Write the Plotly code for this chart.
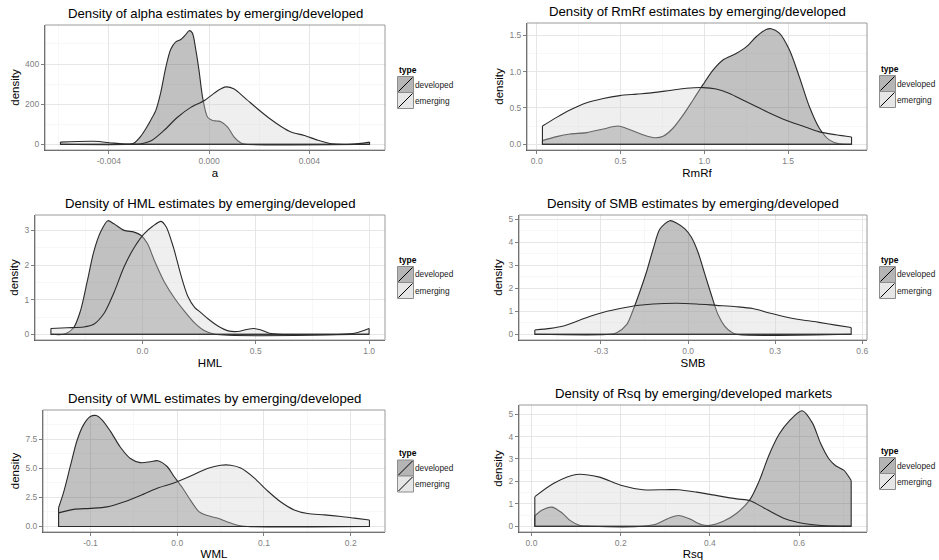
import plotly.graph_objects as go

W, H = 939, 560
FONT = "Liberation Sans, Arial, Helvetica, sans-serif"

# ---------------- data ----------------
groups = ["developed", "emerging"]

# alpha (a)
alpha_dev_x = [-0.00593, -0.00321, -0.00301, -0.00273, -0.00249, -0.00233, -0.00213, -0.00193, -0.00173,
               -0.00153, -0.00133, -0.00113, -0.00093, -0.00080, -0.00067, -0.00053, -0.00040, -0.00026,
               -0.00006, 0.00014, 0.00031, 0.00047, 0.00074, 0.00100, 0.00127, 0.00147, 0.00640]
alpha_dev_y = [0, 0, 5, 40, 85, 120, 168, 258, 382, 473, 510, 522, 547, 566, 555, 470, 366, 234,
               135, 119, 116, 113, 86, 36, 6, 0, 0]
alpha_emg_x = [-0.00593, -0.00460, -0.00380, -0.00313, -0.00273, -0.00233, -0.00180, -0.00126, -0.00073,
               -0.00020, 0.00034, 0.00067, 0.00100, 0.00140, 0.00194, 0.00240, 0.00287, 0.00327,
               0.00380, 0.00434, 0.00487, 0.00567, 0.00640]
alpha_emg_y = [11, 15, 6, 0, 2, 16, 69, 135, 184, 217, 267, 286, 275, 234, 176, 130, 89, 61,
               44, 20, 3, 0, 11]

# RmRf
rmrf_dev_x = [0.034, 0.119, 0.198, 0.298, 0.397, 0.486, 0.556, 0.635, 0.704, 0.754, 0.813, 0.873,
              0.933, 0.992, 1.052, 1.111, 1.190, 1.250, 1.310, 1.369, 1.399, 1.448, 1.508, 1.567,
              1.627, 1.687, 1.746, 1.806, 1.879]
rmrf_dev_y = [0.05, 0.105, 0.14, 0.16, 0.21, 0.25, 0.20, 0.13, 0.09, 0.11, 0.22, 0.40,
              0.61, 0.82, 1.02, 1.16, 1.25, 1.34, 1.48, 1.58, 1.59, 1.53, 1.30, 0.93,
              0.52, 0.22, 0.06, 0.005, 0.0]
rmrf_emg_x = [0.034, 0.119, 0.198, 0.298, 0.397, 0.496, 0.595, 0.694, 0.794, 0.893, 0.992, 1.071,
              1.151, 1.230, 1.310, 1.389, 1.488, 1.587, 1.687, 1.786, 1.879]
rmrf_emg_y = [0.25, 0.37, 0.47, 0.57, 0.63, 0.67, 0.69, 0.71, 0.74, 0.77, 0.78, 0.76,
              0.70, 0.61, 0.52, 0.43, 0.33, 0.25, 0.17, 0.13, 0.10]

# HML
hml_dev_x = [-0.404, -0.348, -0.304, -0.274, -0.244, -0.215, -0.185, -0.153, -0.126, -0.081, -0.037,
             -0.007, 0.022, 0.052, 0.096, 0.141, 0.185, 0.230, 0.274, 0.319, 1.0]
hml_dev_y = [0, 0, 0.19, 0.67, 1.52, 2.38, 2.95, 3.28, 3.19, 3.0, 2.95,
             2.86, 2.62, 2.14, 1.52, 1.05, 0.67, 0.33, 0.10, 0, 0]
hml_emg_x = [-0.404, -0.333, -0.259, -0.215, -0.170, -0.126, -0.081, -0.037, 0.007, 0.045, 0.082,
             0.105, 0.137, 0.170, 0.200, 0.230, 0.259, 0.289, 0.333, 0.378, 0.42, 0.46, 0.49,
             0.52, 0.56, 0.60, 0.88, 0.94, 1.0]
hml_emg_y = [0.17, 0.19, 0.21, 0.29, 0.60, 1.20, 1.95, 2.50, 2.90, 3.12, 3.26,
             3.10, 2.50, 1.70, 1.10, 0.78, 0.62, 0.45, 0.24, 0.10, 0.08, 0.14, 0.17,
             0.13, 0.03, 0, 0, 0.04, 0.17]

# SMB
smb_dev_x = [-0.528, -0.269, -0.246, -0.211, -0.189, -0.166, -0.143, -0.120, -0.097, -0.063, -0.040,
             -0.011, 0.011, 0.034, 0.057, 0.080, 0.103, 0.126, 0.149, 0.166, 0.562]
smb_dev_y = [0, 0, 0.07, 0.43, 1.07, 1.86, 2.72, 3.72, 4.58, 4.94, 4.84,
             4.58, 4.23, 3.58, 2.65, 1.72, 0.86, 0.36, 0.10, 0, 0]
smb_emg_x = [-0.528, -0.474, -0.429, -0.383, -0.337, -0.291, -0.234, -0.177, -0.120, -0.040, 0.029,
             0.097, 0.166, 0.223, 0.280, 0.337, 0.394, 0.451, 0.509, 0.562]
smb_emg_y = [0.19, 0.26, 0.36, 0.57, 0.79, 0.96, 1.12, 1.25, 1.32, 1.35, 1.32,
             1.26, 1.20, 1.12, 0.93, 0.75, 0.62, 0.52, 0.40, 0.30]

# WML
wml_dev_x = [-0.1368, -0.1310, -0.1233, -0.1156, -0.1079, -0.1002, -0.0933, -0.0867, -0.0771, -0.0655,
             -0.0540, -0.0424, -0.0308, -0.0224, -0.0116, -0.0039, 0.0058, 0.0154, 0.0250, 0.0347,
             0.0462, 0.0578, 0.0694, 0.0809, 0.2216]
wml_dev_y = [1.61, 2.94, 5.17, 7.39, 8.78, 9.47, 9.56, 9.19, 8.22, 6.83,
             5.86, 5.5, 5.58, 5.67, 5.17, 4.33, 3.36, 2.25, 1.28, 0.94,
             0.72, 0.39, 0.11, 0, 0]
wml_emg_x = [-0.1368, -0.1195, -0.1002, -0.0809, -0.0617, -0.0424, -0.0231, -0.0039, 0.0154, 0.0347,
             0.0501, 0.0617, 0.0732, 0.0886, 0.1040, 0.1195, 0.1349, 0.1503, 0.1696, 0.1888,
             0.2042, 0.2216]
wml_emg_y = [1.17, 1.47, 1.56, 1.69, 2.11, 2.67, 3.30, 3.75, 4.35, 5.0,
             5.28, 5.28, 5.03, 4.19, 3.08, 2.11, 1.42, 1.11, 1.0, 0.86,
             0.72, 0.56]

# Rsq
rsq_dev_x = [0.0074, 0.024, 0.046, 0.068, 0.087, 0.109, 0.132, 0.25, 0.28, 0.31, 0.33, 0.355, 0.38,
             0.40, 0.43, 0.46, 0.49, 0.51, 0.533, 0.555, 0.578, 0.607, 0.63, 0.648, 0.667, 0.682,
             0.70, 0.7167]
rsq_dev_y = [0.46, 0.72, 0.85, 0.6, 0.25, 0.03, 0, 0, 0.1, 0.38, 0.48, 0.32, 0.08,
             0.04, 0.22, 0.58, 1.2, 2.0, 3.2, 4.1, 4.7, 5.15, 4.6, 3.7, 3.0, 2.7,
             2.5, 2.04]
rsq_emg_x = [0.0074, 0.05, 0.10, 0.15, 0.20, 0.25, 0.30, 0.33, 0.37, 0.40, 0.46, 0.49, 0.53, 0.57,
             0.61, 0.65, 0.69, 0.7167]
rsq_emg_y = [1.32, 1.92, 2.31, 2.20, 1.83, 1.63, 1.63, 1.63, 1.52, 1.42, 1.22, 1.14, 0.72, 0.32,
             0.12, 0.03, 0.0, 0.0]

# titles, axis labels, ticks
titles = ["Density of alpha estimates by emerging/developed",
          "Density of RmRf estimates by emerging/developed",
          "Density of HML estimates by emerging/developed",
          "Density of SMB estimates by emerging/developed",
          "Density of WML estimates by emerging/developed",
          "Density of Rsq by emerging/developed markets"]
x_labels = ["a", "RmRf", "HML", "SMB", "WML", "Rsq"]
y_label = "density"

alpha_xticks = [-0.004, 0.0, 0.004];      alpha_xtext = ["-0.004", "0.000", "0.004"]
alpha_yticks = [0, 200, 400];             alpha_ytext = ["0", "200", "400"]
rmrf_xticks = [0.0, 0.5, 1.0, 1.5];       rmrf_xtext = ["0.0", "0.5", "1.0", "1.5"]
rmrf_yticks = [0.0, 0.5, 1.0, 1.5];       rmrf_ytext = ["0.0", "0.5", "1.0", "1.5"]
hml_xticks = [0.0, 0.5, 1.0];             hml_xtext = ["0.0", "0.5", "1.0"]
hml_yticks = [0, 1, 2, 3];                hml_ytext = ["0", "1", "2", "3"]
smb_xticks = [-0.3, 0.0, 0.3, 0.6];       smb_xtext = ["-0.3", "0.0", "0.3", "0.6"]
smb_yticks = [0, 1, 2, 3, 4, 5];          smb_ytext = ["0", "1", "2", "3", "4", "5"]
wml_xticks = [-0.1, 0.0, 0.1, 0.2];       wml_xtext = ["-0.1", "0.0", "0.1", "0.2"]
wml_yticks = [0.0, 2.5, 5.0, 7.5];        wml_ytext = ["0.0", "2.5", "5.0", "7.5"]
rsq_xticks = [0.0, 0.2, 0.4, 0.6];        rsq_xtext = ["0.0", "0.2", "0.4", "0.6"]
rsq_yticks = [0, 1, 2, 3, 4, 5];          rsq_ytext = ["0", "1", "2", "3", "4", "5"]

# ---------------- styling / layout ----------------
DEV_FILL = "rgba(77,77,77,0.35)"
EMG_FILL = "rgba(209,209,209,0.35)"
LINE = "#2b2b2b"
DEV_KEY = "#b5b5b5"
EMG_KEY = "#e6e6e6"

# plot boxes in pixels: left, right, top, bottom
boxes = [(45, 385, 25, 150), (527, 867, 23, 150),
         (35, 385, 215, 340), (519, 867, 215, 340),
         (43, 385, 410, 532), (519, 867, 405, 532)]

panels = [
    dict(dev=(alpha_dev_x, alpha_dev_y), emg=(alpha_emg_x, alpha_emg_y),
         xt=(alpha_xticks, alpha_xtext), yt=(alpha_yticks, alpha_ytext)),
    dict(dev=(rmrf_dev_x, rmrf_dev_y), emg=(rmrf_emg_x, rmrf_emg_y),
         xt=(rmrf_xticks, rmrf_xtext), yt=(rmrf_yticks, rmrf_ytext)),
    dict(dev=(hml_dev_x, hml_dev_y), emg=(hml_emg_x, hml_emg_y),
         xt=(hml_xticks, hml_xtext), yt=(hml_yticks, hml_ytext)),
    dict(dev=(smb_dev_x, smb_dev_y), emg=(smb_emg_x, smb_emg_y),
         xt=(smb_xticks, smb_xtext), yt=(smb_yticks, smb_ytext)),
    dict(dev=(wml_dev_x, wml_dev_y), emg=(wml_emg_x, wml_emg_y),
         xt=(wml_xticks, wml_xtext), yt=(wml_yticks, wml_ytext)),
    dict(dev=(rsq_dev_x, rsq_dev_y), emg=(rsq_emg_x, rsq_emg_y),
         xt=(rsq_xticks, rsq_xtext), yt=(rsq_yticks, rsq_ytext)),
]


def minor_vals(ticks, lo, hi):
    step = ticks[1] - ticks[0]
    cands = [ticks[0] - step / 2] + [t + step / 2 for t in ticks]
    return [c for c in cands if lo <= c <= hi]


fig = go.Figure()
shapes, annotations = [], []
layout = {}

for i, (p, box, title, xl) in enumerate(zip(panels, boxes, titles, x_labels), start=1):
    l, r, t, b = box
    xa = "x" if i == 1 else f"x{i}"
    ya = "y" if i == 1 else f"y{i}"
    xk = "xaxis" if i == 1 else f"xaxis{i}"
    yk = "yaxis" if i == 1 else f"yaxis{i}"

    allx = p["dev"][0] + p["emg"][0]
    ally = p["dev"][1] + p["emg"][1]
    x0, x1 = min(allx), max(allx)
    y0, y1 = 0.0, max(ally)
    xr = [x0 - 0.05 * (x1 - x0), x1 + 0.05 * (x1 - x0)]
    yr = [y0 - 0.05 * (y1 - y0), y1 + 0.05 * (y1 - y0)]

    for key, fillc in (("dev", DEV_FILL), ("emg", EMG_FILL)):
        xs, ys = p[key]
        fig.add_trace(go.Scatter(
            x=xs, y=ys, xaxis=xa, yaxis=ya, mode="lines",
            line=dict(color=LINE, width=1.1, shape="spline", smoothing=0.8),
            fill="tozeroy", fillcolor=fillc, showlegend=False, hoverinfo="skip"))
        fig.add_trace(go.Scatter(
            x=[xs[0], xs[0], xs[-1], xs[-1]], y=[ys[0], 0, 0, ys[-1]],
            xaxis=xa, yaxis=ya, mode="lines",
            line=dict(color=LINE, width=1.1), showlegend=False, hoverinfo="skip"))

    xt, xtl = p["xt"]
    yt, ytl = p["yt"]
    common = dict(showgrid=True, gridcolor="#e6e6e6", gridwidth=1,
                  showline=True, linecolor="#4d4d4d", linewidth=1, mirror=False,
                  ticks="outside", ticklen=3, tickcolor="#7f7f7f", tickwidth=1,
                  tickfont=dict(size=8.5, color="#7f7f7f", family=FONT),
                  zeroline=False, fixedrange=True, tickmode="array")
    layout[xk] = dict(common, domain=[l / W, r / W], anchor=ya, range=xr,
                      tickvals=xt, ticktext=xtl,
                      minor=dict(tickvals=minor_vals(xt, *xr), showgrid=True,
                                 gridcolor="#f7f7f7", ticks=""),
                      title=dict(text=xl, font=dict(size=11.5, color="black", family=FONT), standoff=3))
    layout[yk] = dict(common, domain=[1 - b / H, 1 - t / H], anchor=xa, range=yr,
                      tickvals=yt, ticktext=ytl,
                      minor=dict(tickvals=minor_vals(yt, *yr), showgrid=True,
                                 gridcolor="#f7f7f7", ticks=""),
                      title=dict(text=y_label, font=dict(size=11.5, color="black", family=FONT), standoff=3))

    # panel border
    shapes.append(dict(type="rect", xref="paper", yref="paper",
                       x0=l / W, x1=r / W, y0=1 - b / H, y1=1 - t / H,
                       line=dict(color="#9a9a9a", width=1), fillcolor="rgba(0,0,0,0)", layer="above"))
    # title
    annotations.append(dict(text=title, x=(l + r) / 2 / W, y=1 - (t - 2) / H, xref="paper", yref="paper",
                            xanchor="center", yanchor="bottom", showarrow=False,
                            font=dict(size=13.2, color="black", family=FONT)))
    # legend
    kx = r + 12.5
    cy = (t + b) / 2
    annotations.append(dict(text="<b>type</b>", x=kx / W, y=1 - (cy - 18) / H, xref="paper", yref="paper",
                            xanchor="left", yanchor="middle", showarrow=False, borderpad=0,
                            font=dict(size=8.5, color="black", family=FONT)))
    for j, (g, kc) in enumerate(zip(groups, (DEV_KEY, EMG_KEY))):
        ktop = cy - 11 + 16 * j
        kbot = ktop + 16
        shapes.append(dict(type="rect", xref="paper", yref="paper",
                           x0=kx / W, x1=(kx + 16) / W, y0=1 - kbot / H, y1=1 - ktop / H,
                           fillcolor=kc, line=dict(color="#8c8c8c", width=1)))
        shapes.append(dict(type="line", xref="paper", yref="paper",
                           x0=(kx + 1) / W, x1=(kx + 15) / W, y0=1 - (kbot - 1) / H, y1=1 - (ktop + 1) / H,
                           line=dict(color="black", width=1)))
        annotations.append(dict(text=g, x=(kx + 16.5) / W, y=1 - (ktop + 8) / H, xref="paper", yref="paper",
                                xanchor="left", yanchor="middle", showarrow=False, borderpad=0,
                                font=dict(size=8.3, color="#1a1a1a", family=FONT)))

fig.update_layout(
    width=W, height=H, autosize=False,
    margin=dict(l=0, r=0, t=0, b=0),
    paper_bgcolor="white", plot_bgcolor="white",
    font=dict(family=FONT),
    shapes=shapes, annotations=annotations,
    showlegend=False,
    **layout,
)

fig.write_html("out.html", config={"displayModeBar": False, "staticPlot": True},
               post_script="document.body.style.margin='0';document.body.style.overflow='hidden';")
